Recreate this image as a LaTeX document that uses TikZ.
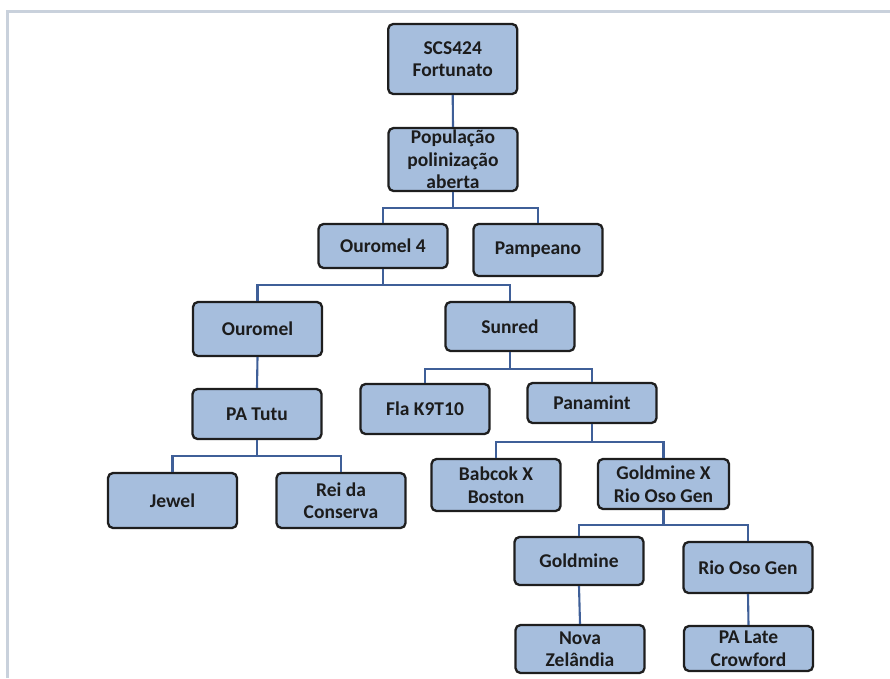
\documentclass[tikz,border=0pt]{standalone}
\usepackage{fontspec}
\setmainfont{Carlito}
\definecolor{boxfill}{HTML}{A6BEDD}
\definecolor{boxline}{HTML}{1E1E1E}
\definecolor{conn}{HTML}{3F5F98}
\definecolor{frame}{HTML}{C9D1DC}
\definecolor{txt}{HTML}{1C1C1C}
\begin{document}
\begin{tikzpicture}[x=1pt,y=-1pt,
  box/.style={draw=boxline, line width=2.3pt, fill=boxfill, rounded corners=5pt,
    inner sep=0pt, minimum width=129pt, align=center, text=txt,
    font=\fontsize{19.5}{22.5}\selectfont\bfseries},
  link/.style={draw=conn, line width=2.1pt}]
\useasboundingbox (0,0) rectangle (890,678);
\draw[frame, line width=3pt] (7,678) -- (7,11.5) -- (890,11.5);

\node[box, minimum height=70pt] (scs) at (452.7,59) {SCS424\\Fortunato};
\node[box, minimum height=63pt] (pop) at (453,159.5) {População\\polinização\\aberta};
\node[box, minimum height=44pt] (o4) at (383,246) {Ouromel 4};
\node[box, minimum height=52pt] (pamp) at (538,250) {Pampeano};
\node[box, minimum height=54pt] (our) at (257.5,329) {Ouromel};
\node[box, minimum height=49pt] (sun) at (510,326.5) {Sunred};
\node[box, minimum height=50pt] (tutu) at (257,414) {PA Tutu};
\node[box, minimum height=50pt] (fla) at (425,409) {Fla K9T10};
\node[box, minimum height=40pt] (pan) at (592,403) {Panamint};
\node[box, minimum height=55pt] (jew) at (172.5,500.5) {Jewel};
\node[box, minimum height=55pt] (rei) at (341,500.5) {Rei da\\Conserva};
\node[box, minimum height=52pt] (bab) at (496,485) {Babcok X\\Boston};
\node[box, minimum height=50pt, minimum width=131pt] (gxr) at (663.5,484) {Goldmine X\\Rio Oso Gen};
\node[box, minimum height=48pt] (gold) at (579,561) {Goldmine};
\node[box, minimum height=51pt] (rio) at (748,567.5) {Rio Oso Gen};
\node[box, minimum height=48pt] (nova) at (580,649) {Nova\\Zelândia};
\node[box, minimum height=45pt] (late) at (748.5,648.5) {PA Late\\Crowford};

\begin{scope}[link]
\draw (scs.south) -- (pop.north);
\draw (pop.south) -- ++(0,16) -| (o4.north);
\draw (pop.south) -- ++(0,16) -| (pamp.north);
\draw (o4.south) -- ++(0,16) -| (our.north);
\draw (o4.south) -- ++(0,16) -| (sun.north);
\draw (our.south) -- (tutu.north);
\draw (tutu.south) -- ++(0,16) -| (jew.north);
\draw (tutu.south) -- ++(0,16) -| (rei.north);
\draw (sun.south) -- ++(0,17) -| (fla.north);
\draw (sun.south) -- ++(0,17) -| (pan.north);
\draw (pan.south) -- ++(0,18) -| (bab.north);
\draw (pan.south) -- ++(0,18) -| (gxr.north);
\draw (gxr.south) -- ++(0,15) -| (gold.north);
\draw (gxr.south) -- ++(0,15) -| (rio.north);
\draw (gold.south) -- (nova.north);
\draw (rio.south) -- (late.north);
\end{scope}
\end{tikzpicture}
\end{document}
